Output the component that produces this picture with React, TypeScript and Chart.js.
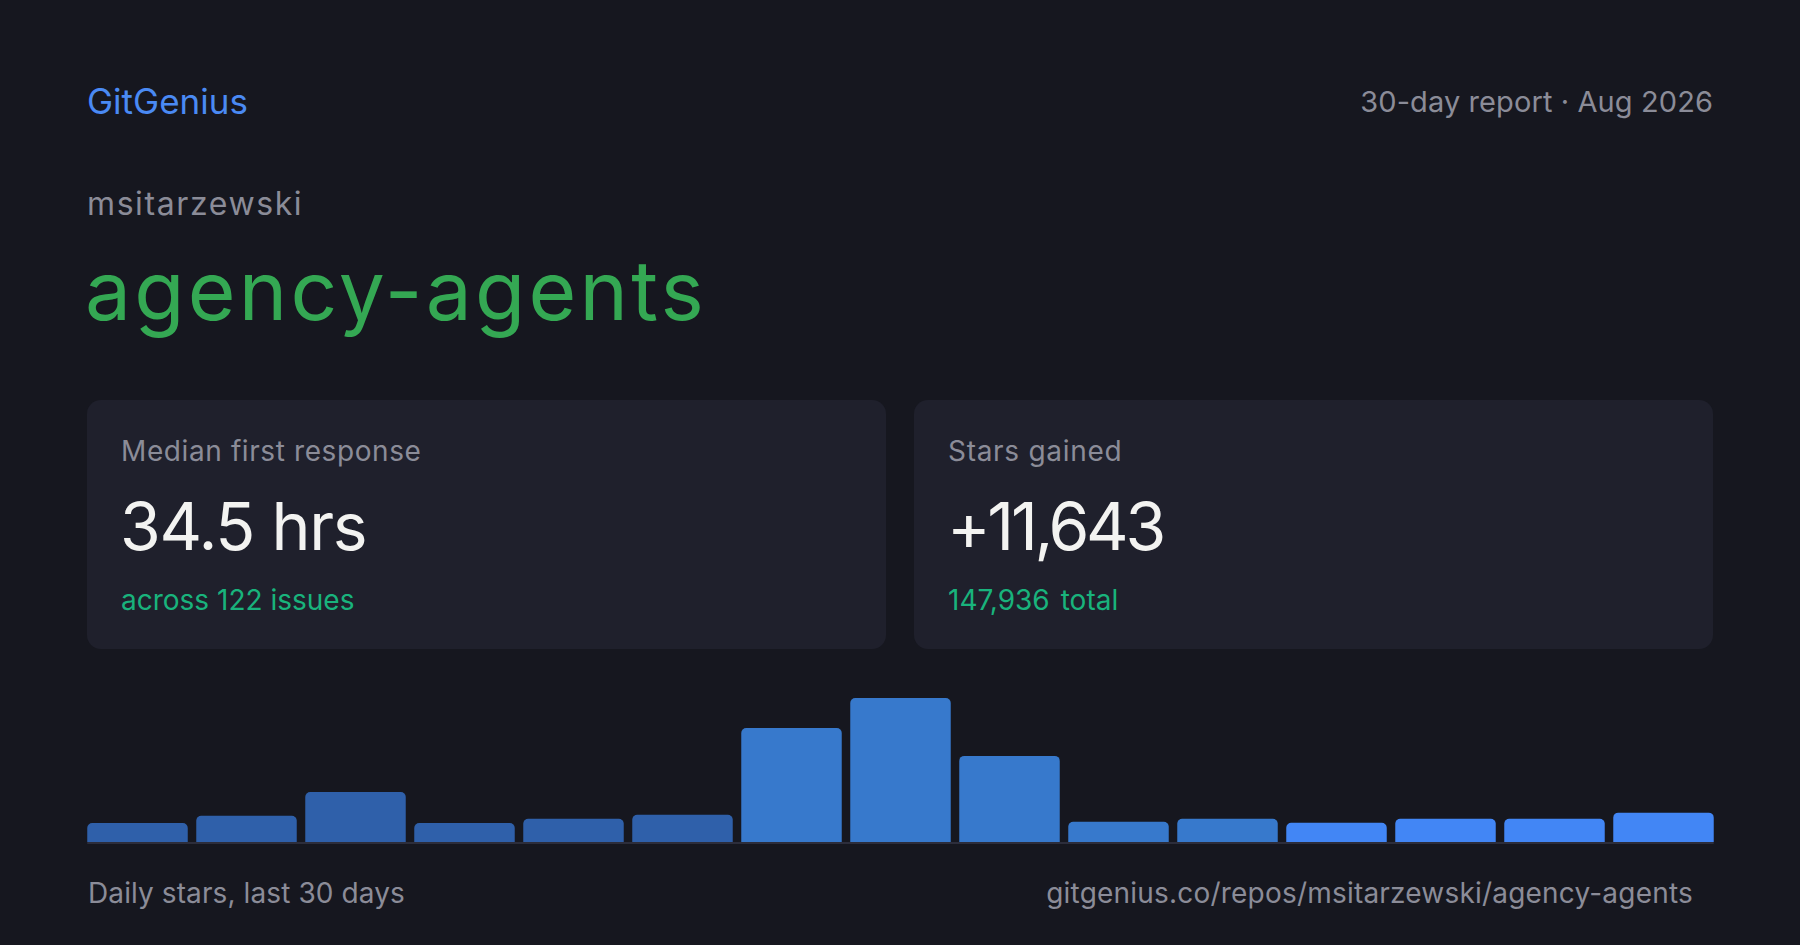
import React, { useEffect, useRef } from "react";
import { Chart, registerables } from "chart.js";

Chart.register(...registerables);

// ---- data ----
const bucketLabels: string[] = [
  "1-2", "3-4", "5-6", "7-8", "9-10", "11-12", "13-14", "15-16",
  "17-18", "19-20", "21-22", "23-24", "25-26", "27-28", "29-30",
];
const dailyStars: number[] = [
  341, 472, 898, 341, 418, 490, 2052, 2590, 1549, 364, 418, 346, 418, 418, 528,
];
const barColors: string[] = [
  "#2f60aa", "#2f60aa", "#2f60aa", "#2f60aa", "#2f60aa", "#2f60aa",
  "#3779cc", "#3779cc", "#3779cc", "#3779cc", "#3779cc",
  "#4286f5", "#4286f5", "#4286f5", "#4286f5",
];

const brand = "GitGenius";
const reportLabel = "30-day report · Aug 2026";
const owner = "msitarzewski";
const repo = "agency-agents";
const cardResponseLabel = "Median first response";
const cardResponseValue = "34.5 hrs";
const cardResponseSub = "across 122 issues";
const cardStarsLabel = "Stars gained";
const cardStarsValue = "+11,643";
const cardStarsTotal = "147,936";
const cardStarsTotalSuffix = "total";
const footerLeft = "Daily stars, last 30 days";
const footerRight = "gitgenius.co/repos/msitarzewski/agency-agents";

const FONT = "Inter, 'Noto Sans', sans-serif";
const BG = "#16171f";
const CARD = "#1f202c";
const GRAY = "#8b8c98";
const TEAL = "#19b37c";

const baselinePlugin = {
  id: "barBaseline",
  afterDatasetsDraw(chart: any) {
    const meta = chart.getDatasetMeta(0);
    const bars = meta.data;
    if (!bars || !bars.length) return;
    const first = bars[0];
    const last = bars[bars.length - 1];
    const left = first.x - first.width / 2;
    const right = last.x + last.width / 2;
    const y = chart.chartArea.bottom + 1;
    const ctx = chart.ctx;
    ctx.save();
    ctx.strokeStyle = "#2c2d3b";
    ctx.lineWidth = 2;
    ctx.beginPath();
    ctx.moveTo(left, y);
    ctx.lineTo(right, y);
    ctx.stroke();
    ctx.restore();
  },
};

function StarsChart() {
  const ref = useRef<HTMLCanvasElement | null>(null);
  useEffect(() => {
    if (!ref.current) return;
    const chart = new Chart(ref.current, {
      type: "bar",
      data: {
        labels: bucketLabels,
        datasets: [
          {
            data: dailyStars,
            backgroundColor: barColors,
            borderRadius: 5,
            borderSkipped: "bottom",
            barPercentage: 0.922,
            categoryPercentage: 1,
          },
        ],
      },
      options: {
        animation: false,
        responsive: true,
        maintainAspectRatio: false,
        layout: { padding: { top: 0, bottom: 2, left: 0, right: 0 } },
        plugins: {
          legend: { display: false },
          tooltip: { enabled: false },
          title: { display: false },
        },
        scales: {
          x: {
            display: false,
            offset: true,
            grid: { display: false, drawTicks: false },
            ticks: { display: false },
            border: { display: false },
          },
          y: {
            display: false,
            min: 0,
            max: Math.max(...dailyStars),
          },
        },
      },
      plugins: [baselinePlugin],
    });
    return () => chart.destroy();
  }, []);
  return <canvas ref={ref} />;
}

const abs = (s: React.CSSProperties): React.CSSProperties => ({
  position: "absolute",
  lineHeight: 1,
  whiteSpace: "nowrap",
  margin: 0,
  ...s,
});

function Card(props: {
  left: number;
  label: string;
  labelSpacing: number;
  value: string;
  valueSpacing: number;
  sub: React.ReactNode;
}) {
  return (
    <div
      style={{
        position: "absolute",
        left: props.left,
        top: 400,
        width: 799,
        height: 249,
        background: CARD,
        borderRadius: 14,
      }}
    >
      <div style={abs({ left: 34, top: 37, fontSize: 28, color: GRAY, letterSpacing: props.labelSpacing })}>
        {props.label}
      </div>
      <div
        style={abs({
          left: 33,
          top: 93,
          fontSize: 66,
          color: "#f3f3f1",
          letterSpacing: props.valueSpacing,
        })}
      >
        {props.value}
      </div>
      <div style={abs({ left: 34, top: 186, fontSize: 28, color: TEAL })}>{props.sub}</div>
    </div>
  );
}

export default function App() {
  useEffect(() => {
    document.body.style.margin = "0";
    document.body.style.background = BG;
  }, []);
  return (
    <div
      style={{
        position: "relative",
        width: 1800,
        height: 945,
        background: BG,
        overflow: "hidden",
        fontFamily: FONT,
      }}
    >
      <div style={abs({ left: 87, top: 84, fontSize: 35, color: "#4a8af4" })}>{brand}</div>
      <div style={abs({ right: 87, top: 87, fontSize: 29, color: GRAY, letterSpacing: 0.1 })}>
        {reportLabel}
      </div>
      <div style={abs({ left: 87, top: 188, fontSize: 32, color: GRAY, letterSpacing: 1.6 })}>
        {owner}
      </div>
      <div style={abs({ left: 85, top: 250, fontSize: 82, color: "#34a853", letterSpacing: 3.2 })}>
        {repo}
      </div>

      <Card
        left={87}
        label={cardResponseLabel}
        labelSpacing={0.6}
        value={cardResponseValue}
        valueSpacing={-1.3}
        sub={cardResponseSub}
      />
      <Card
        left={914}
        label={cardStarsLabel}
        labelSpacing={0.7}
        value={cardStarsValue}
        valueSpacing={-3.3}
        sub={
          <>
            <span>{cardStarsTotal}</span>
            <span style={{ marginLeft: 11 }}>{cardStarsTotalSuffix}</span>
          </>
        }
      />

      <div style={{ position: "absolute", left: 83, top: 698, width: 1635, height: 146 }}>
        <StarsChart />
      </div>

      <div style={abs({ left: 88, top: 879, fontSize: 28, color: GRAY, letterSpacing: 0.1 })}>
        {footerLeft}
      </div>
      <div style={abs({ right: 107, top: 879, fontSize: 28, color: GRAY, letterSpacing: 0.2 })}>
        {footerRight}
      </div>
    </div>
  );
}
